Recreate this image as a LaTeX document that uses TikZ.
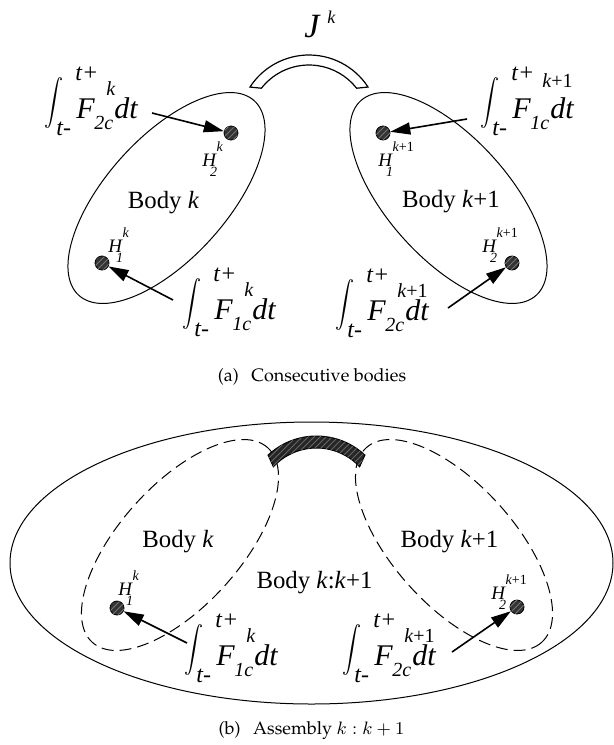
\documentclass[tikz,border=0pt]{standalone}
\usepackage[T1]{fontenc}
\usepackage{amsmath}
\usepackage{graphicx}
\usepackage{fontspec}
\setmainfont{Liberation Serif}
\usetikzlibrary{arrows.meta,patterns,calc}

\newcommand{\capfont}{\fontencoding{T1}\fontfamily{ppl}\fontsize{9}{11}\selectfont}
\newcommand{\limfont}{\fontsize{12}{14}\selectfont}
\newcommand{\idxfont}{\fontsize{10}{12}\selectfont}
\newcommand{\bigint}{\raisebox{-5pt}{\resizebox{9.5pt}{25.5pt}{\raisebox{\depth}{$\displaystyle\int$}}}}
% impulse label: subscript, superscript, raise of superscript
\newcommand{\impulse}[3]{%
  \fontsize{15}{18}\selectfont\itshape
  \makebox[0pt][l]{\hspace*{-16pt}\bigint}%
  \makebox[0pt][l]{\hspace*{-10pt}\raisebox{-8.5pt}{\limfont t-}}%
  \makebox[0pt][l]{\hspace*{-0.5pt}\raisebox{19pt}{\limfont t+}}%
  \makebox[0pt][l]{\hspace*{9pt}\raisebox{-5.5pt}{\idxfont #1}}%
  \makebox[0pt][l]{\hspace*{15pt}\raisebox{#3}{\idxfont #2}}%
  F\hspace{9.8pt}dt}
% hinge point label
\newcommand{\hmark}[2]{%
  \fontsize{9.5}{11}\selectfont\itshape H%
  \makebox[0pt][l]{\hspace*{0.3pt}\raisebox{7.5pt}{\fontsize{7}{8}\selectfont #2}}%
  \makebox[0pt][l]{\hspace*{-3pt}\raisebox{-5pt}{\fontsize{7}{8}\selectfont #1}}}
\newcommand{\kone}{k\upshape+1}

\tikzset{
  bodyline/.style={draw, line width=0.5pt},
  hullline/.style={draw, line width=0.5pt, dash pattern=on 6pt off 3pt},
  jointbar/.style={draw, line width=0.6pt, fill=white},
  jointfilled/.style={draw, line width=0.5pt, fill=black!85,
    postaction={pattern=north east lines, pattern color=black!60}},
  hinge/.style={circle, draw, line width=0.4pt, fill=black!80,
    minimum size=7pt, inner sep=0pt,
    postaction={pattern=north east lines, pattern color=black!55}},
  impulsearrow/.style={-{Triangle[length=10pt,width=6pt]}, line width=0.8pt},
  bodylabel/.style={anchor=base, inner sep=0pt, font=\fontsize{12.4}{14}\selectfont},
  hlabel/.style={anchor=base west, inner sep=0pt},
  intlabel/.style={anchor=base west, inner sep=0pt},
  jointlabel/.style={anchor=base west, inner sep=0pt, font=\fontsize{17}{20}\selectfont\itshape},
  caplabel/.style={anchor=base, inner sep=0pt, font=\capfont},
}

\begin{document}
\begin{tikzpicture}[x=0.5pt,y=-0.5pt]
  \useasboundingbox (0,0) rectangle (614,745);

  % (a) two bodies and the joint
  \coordinate (ck) at (166.5,198);
  \coordinate (ck1) at (448.5,198);
  \draw[bodyline, rotate around={48:(ck)}] (ck) ellipse [x radius=131, y radius=60.5];
  \draw[bodyline, rotate around={-48:(ck1)}] (ck1) ellipse [x radius=131, y radius=60.5];
  \coordinate (ja) at (309,125.4);
  \draw[jointbar] ($(ja)+(-33:70.4)$) arc[start angle=-33, end angle=-147, radius=70.4]
    -- ($(ja)+(-142:60.4)$) arc[start angle=-142, end angle=-38, radius=60.4] -- cycle;
  \node[jointlabel] (jk) at (304,37) {J\hspace{4pt}\raisebox{7pt}{\fontsize{9}{10}\selectfont k}};
  \node[bodylabel] (bodyk) at (163.5,208) {Body \textit{k}};
  \node[bodylabel] (bodyk1) at (451,207) {Body \textit{k}+1};

  \node[hinge] (h2k) at (231,133) {};
  \node[hinge] (h1k) at (102,263) {};
  \node[hinge] (h1k1) at (383,133) {};
  \node[hinge] (h2k1) at (512,263) {};
  \node[hlabel] (lh2k) at (202,166) {\hmark{2}{k}};
  \node[hlabel] (lh1k) at (108,252) {\hmark{1}{k}};
  \node[hlabel] (lh1k1) at (378,166) {\hmark{1}{\kone}};
  \node[hlabel] (lh2k1) at (482,252) {\hmark{2}{\kone}};

  \node[intlabel] (f2k) at (76,118) {\impulse{2c}{k}{11.5pt}};
  \node[intlabel] (f1k1) at (512,118) {\impulse{1c}{\kone}{15.5pt}};
  \node[intlabel] (f1k) at (214,319) {\impulse{1c}{k}{11.5pt}};
  \node[intlabel] (f2k1) at (367,320) {\impulse{2c}{\kone}{11.5pt}};
  \coordinate (t2k) at (152,113);
  \coordinate (t1k1) at (467,119);
  \coordinate (t1k) at (173,300);
  \coordinate (t2k1) at (448,308);
  \draw[impulsearrow] (t2k) -- (h2k);
  \draw[impulsearrow] (t1k1) -- (h1k1);
  \draw[impulsearrow] (t1k) -- (h1k);
  \draw[impulsearrow] (t2k1) -- (h2k1);

  \node[caplabel] (capa) at (312,381) {(a)\hspace{0.7em}Consecutive bodies};

  % (b) assembly of the two bodies
  \coordinate (cab) at (311.5,563);
  \coordinate (ckb) at (180,545);
  \coordinate (ck1b) at (454,545);
  \draw[bodyline] (cab) ellipse [x radius=301.5, y radius=141];
  \draw[hullline, rotate around={48:(ckb)}] (ckb) ellipse [x radius=131, y radius=60.5];
  \draw[hullline, rotate around={-48:(ck1b)}] (ck1b) ellipse [x radius=131, y radius=60.5];
  \coordinate (jb) at (316.5,507);
  \draw[jointfilled] ($(jb)+(-47:71)$) arc[start angle=-47, end angle=-133, radius=71]
    -- ($(jb)+(-137:59)$) arc[start angle=-137, end angle=-43, radius=59] -- cycle;
  \node[bodylabel] (bodykb) at (178,547) {Body \textit{k}};
  \node[bodylabel] (bodyk1b) at (449.5,547) {Body \textit{k}+1};
  \node[bodylabel] (bodyab) at (314.5,588) {Body \textit{k}:\textit{k}+1};

  \node[hinge] (h1kb) at (117,608) {};
  \node[hinge] (h2k1b) at (517,607) {};
  \node[hlabel] (lh1kb) at (118,595) {\hmark{1}{k}};
  \node[hlabel] (lh2k1b) at (491,599) {\hmark{2}{\kone}};

  \node[intlabel] (f1kb) at (216,665) {\impulse{1c}{k}{11.5pt}};
  \node[intlabel] (f2k1b) at (374,665) {\impulse{2c}{\kone}{11.5pt}};
  \coordinate (t1kb) at (187,643);
  \coordinate (t2k1b) at (452,652);
  \draw[impulsearrow] (t1kb) -- (h1kb);
  \draw[impulsearrow] (t2k1b) -- (h2k1b);

  \node[caplabel] (capb) at (311.5,734) {(b)\hspace{0.7em}Assembly $k:k+1$};
\end{tikzpicture}
\end{document}
